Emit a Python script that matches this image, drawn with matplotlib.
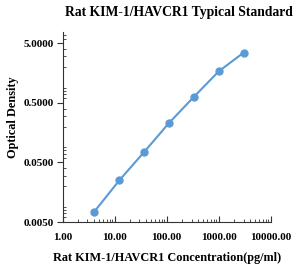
import matplotlib
matplotlib.use("Agg")
import matplotlib.pyplot as plt
from matplotlib.ticker import LogLocator, FixedLocator, NullFormatter

concentration = [4.1, 12.3, 37.0, 111.0, 333.0, 1000.0, 3000.0]
od = [0.0075, 0.025, 0.075, 0.23, 0.63, 1.69, 3.48]
x_ticks = [1, 10, 100, 1000, 10000]
x_labels = ["1.00", "10.00", "100.00", "1000.00", "10000.00"]
y_ticks = [0.005, 0.05, 0.5, 5]
y_labels = ["0.0050", "0.0500", "0.5000", "5.0000"]

plt.rcParams['font.family'] = ['Liberation Serif', 'DejaVu Serif']
plt.rcParams['font.weight'] = 'bold'

fig = plt.figure(figsize=(2.95, 2.67), dpi=100)
ax = fig.add_axes([0.212, 0.1685, 0.706, 0.7125])
color = '#5b9bd5'
ax.plot(concentration, od, color=color, lw=1.5, marker='o', ms=5, mec=color, mfc=color)
ax.set_xscale('log')
ax.set_yscale('log')
ax.set_xlim(1, 10000)
ax.set_ylim(0.005, 7.8)
ax.xaxis.set_major_locator(FixedLocator(x_ticks))
ax.set_xticklabels(x_labels, fontsize=8, fontweight='bold')
ax.yaxis.set_major_locator(FixedLocator(y_ticks))
ax.set_yticklabels(y_labels, fontsize=8, fontweight='bold')
ax.xaxis.set_minor_locator(LogLocator(base=10, subs=range(2, 10), numticks=20))
ax.yaxis.set_minor_locator(LogLocator(base=10, subs=range(2, 10), numticks=20))
ax.xaxis.set_minor_formatter(NullFormatter())
ax.yaxis.set_minor_formatter(NullFormatter())
for s in ['top', 'right']:
    ax.spines[s].set_visible(False)
for s in ['left', 'bottom']:
    ax.spines[s].set_color('#333333')
    ax.spines[s].set_linewidth(0.8)
ax.tick_params(axis='x', which='major', direction='in', length=4, width=0.8, colors='#333333', pad=8)
ax.tick_params(axis='x', which='minor', direction='in', length=2, width=0.6, colors='#333333')
ax.tick_params(axis='y', which='major', direction='out', length=4, width=0.8, colors='#333333', pad=2)
ax.tick_params(axis='y', which='minor', direction='in', length=2, width=0.6, colors='#333333')
for lab in ax.get_xticklabels() + ax.get_yticklabels():
    lab.set_color('black')

fig.text(0.607, 0.955, "Rat KIM-1/HAVCR1 Typical Standard", fontsize=9.8, fontweight='bold',
         ha='center', va='center')
ax.set_xlabel("Rat KIM-1/HAVCR1 Concentration(pg/ml)", fontsize=8.8, fontweight='bold', labelpad=7)
ax.set_ylabel("Optical Density", fontsize=8.8, fontweight='bold', labelpad=5)
ax.yaxis.set_label_coords(-0.21, 0.55)

fig.savefig("out.png", dpi=100)
